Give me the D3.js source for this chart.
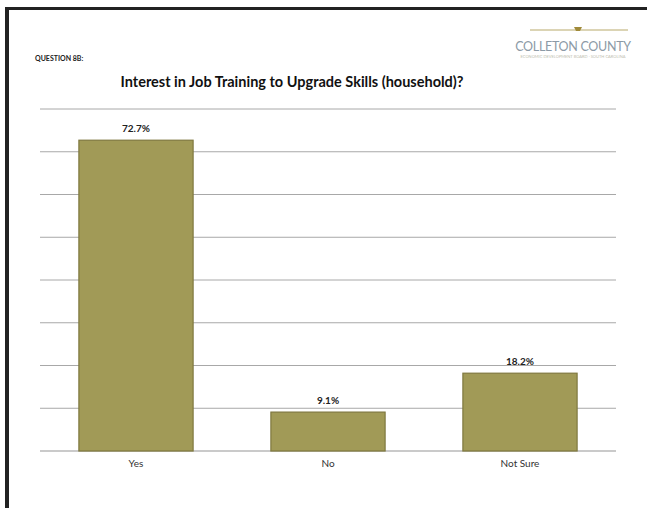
<!DOCTYPE html>
<html><head><meta charset="utf-8">
<script src="https://cdn.jsdelivr.net/npm/d3@7"></script>
<style>body{margin:0;background:#fff}svg{display:block}</style>
</head><body>
<script>
const categories = ["Yes", "No", "Not Sure"];
const values = [72.7, 9.1, 18.2];
const valueLabels = ["72.7%", "9.1%", "18.2%"];
const yTicks = [0, 10, 20, 30, 40, 50, 60, 70, 80];
const title = "Interest in Job Training to Upgrade Skills (household)?";
const question = "QUESTION 8B:";

const W = 647, H = 508;
const svg = d3.select("body").append("svg").attr("width", W).attr("height", H);
const font = "Lato, 'Open Sans', sans-serif";

// frame
svg.append("rect").attr("x", 5).attr("y", 7).attr("width", W - 5).attr("height", 3).attr("fill", "#222");
svg.append("rect").attr("x", 5).attr("y", 7).attr("width", 4).attr("height", H - 7).attr("fill", "#222");

const x = d3.scaleBand().domain(categories).range([40, 616]).paddingInner(0.4).paddingOuter(0.2);
const y = d3.scaleLinear().domain([0, 80]).range([451, 109]);

// gridlines
svg.append("g").selectAll("line").data(yTicks).join("line")
  .attr("x1", 40).attr("x2", 616)
  .attr("y1", d => y(d)).attr("y2", d => y(d))
  .attr("stroke", d => d === 0 ? "#b8b8b8" : "#a8a8a8").attr("stroke-width", d => d === 0 ? 1.5 : 1);

// bars
svg.append("g").selectAll("rect").data(values).join("rect")
  .attr("x", (d, i) => x(categories[i]) + 0.5)
  .attr("y", d => y(d))
  .attr("width", x.bandwidth() - 1)
  .attr("height", d => y(0) - y(d))
  .attr("fill", "#a19a57").attr("stroke", "#7f783f").attr("stroke-width", 1.2);

// value labels
svg.append("g").selectAll("text").data(values).join("text")
  .attr("x", (d, i) => x(categories[i]) + x.bandwidth() / 2)
  .attr("y", d => y(d) - 8)
  .attr("text-anchor", "middle").attr("font-family", font).attr("font-weight", "bold")
  .attr("font-size", 10).attr("fill", "#222")
  .text((d, i) => valueLabels[i]);

// x axis labels
svg.append("g").selectAll("text").data(categories).join("text")
  .attr("x", d => x(d) + x.bandwidth() / 2).attr("y", 467)
  .attr("text-anchor", "middle").attr("font-family", font)
  .attr("font-size", 10).attr("fill", "#333").text(d => d);

// title
svg.append("text").attr("x", 292).attr("y", 87).attr("text-anchor", "middle")
  .attr("font-family", font).attr("font-weight", "bold").attr("font-size", 14.5)
  .attr("fill", "#111").text(title);

svg.append("text").attr("x", 35).attr("y", 61)
  .attr("font-family", font).attr("font-weight", "bold").attr("font-size", 7)
  .attr("fill", "#222").text(question);

// logo
svg.append("line").attr("x1", 530).attr("x2", 628).attr("y1", 30).attr("y2", 30)
  .attr("stroke", "#b8a96a").attr("stroke-width", 1);
svg.append("path").attr("d", "M574,27 L582,27 L580,31 L576,31 Z").attr("fill", "#a08a3a");
svg.append("text").attr("x", 573).attr("y", 51).attr("text-anchor", "middle")
  .attr("font-family", font).attr("font-size", 12.5).attr("fill", "#8c9aa6")
  .attr("letter-spacing", -0.3).text("COLLETON COUNTY");
svg.append("text").attr("x", 573).attr("y", 58).attr("text-anchor", "middle")
  .attr("font-family", font).attr("font-size", 4).attr("fill", "#c0c0b0")
  .text("ECONOMIC DEVELOPMENT BOARD · SOUTH CAROLINA");
</script>
</body></html>
